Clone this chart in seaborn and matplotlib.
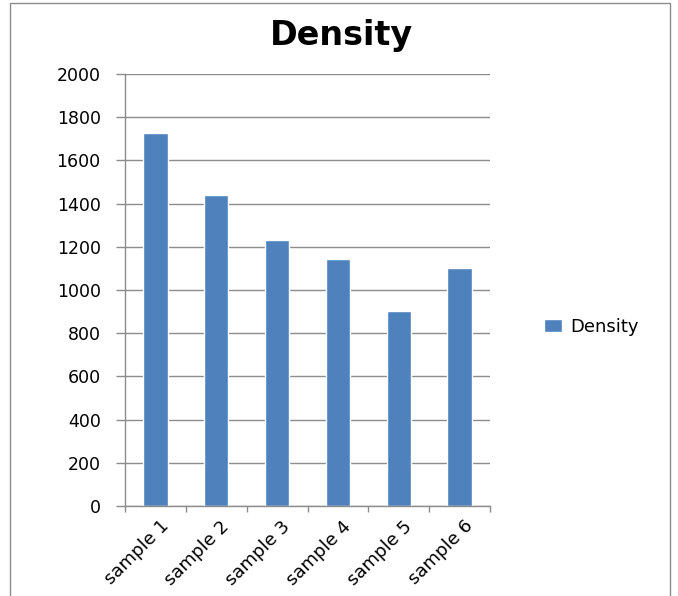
import pandas as pd
import numpy as np
import matplotlib
matplotlib.use("Agg")
import matplotlib.pyplot as plt
import matplotlib.transforms as mtransforms
import seaborn as sns
from matplotlib.patches import Rectangle

samples = ["sample 1", "sample 2", "sample 3", "sample 4", "sample 5", "sample 6"]
density = [1725, 1440, 1232, 1142, 903, 1102]
series = ["Density"] * len(samples)

df = pd.DataFrame({"sample": samples, "density": density, "series": series})

sns.set_style("white")
plt.rcParams["font.family"] = ["DejaVu Sans"]
plt.rcParams["text.color"] = "black"
plt.rcParams["xtick.color"] = "black"
plt.rcParams["ytick.color"] = "black"

fig = plt.figure(figsize=(6.78, 5.96), dpi=100)
ax = fig.add_axes([125 / 678, 90 / 596, 365 / 678, 432 / 596])

sns.barplot(data=df, x="sample", y="density", hue="series", palette=["#4f81bd"],
            width=0.4, ax=ax, saturation=1)

ax.set_ylim(0, 2000)
ax.set_xlim(-0.5, 5.5)
ax.set_yticks(np.arange(0, 2001, 200))
ax.yaxis.grid(True, color="#8c8c8c", linewidth=1)
ax.set_axisbelow(True)
ax.set_xlabel("")
ax.set_ylabel("")
for s in ["top", "right"]:
    ax.spines[s].set_visible(False)
for s in ["left", "bottom"]:
    ax.spines[s].set_color("#8c8c8c")
    ax.spines[s].set_linewidth(1)

ax.set_xticks(np.arange(6))
ax.set_xticklabels(samples, rotation=45, ha="right", rotation_mode="anchor", fontsize=13)
ax.tick_params(axis="x", which="major", bottom=True, length=0, pad=8)
ax.set_xticks(np.arange(-0.5, 6, 1), minor=True)
ax.tick_params(axis="x", which="minor", bottom=True, length=4, color="#8c8c8c",
               width=1, direction="out")
ax.tick_params(axis="y", left=True, length=6.5, color="#8c8c8c", width=1,
               direction="out", labelsize=12.5, labelcolor="black", pad=11)

# nudge rotated labels a little to the right, like the original
offset = mtransforms.ScaledTranslation(4 / 100, 0, fig.dpi_scale_trans)
for lab in ax.get_xticklabels():
    lab.set_transform(lab.get_transform() + offset)

fig.text(341 / 678, 1 - 36 / 596, "Density", ha="center", va="center",
         fontsize=24, fontweight="bold", color="black")

leg = ax.legend(loc="center left", bbox_to_anchor=(1.104, 0.414), frameon=False,
                fontsize=13, handlelength=1.0, handleheight=0.75, handletextpad=0.45)
for t in leg.get_texts():
    t.set_color("black")

fig.patches.append(Rectangle((10 / 678, -0.1), 660 / 678, 1.095, transform=fig.transFigure,
                             fill=False, edgecolor="#8c8c8c", linewidth=1))

fig.savefig("out.png", dpi=100)
